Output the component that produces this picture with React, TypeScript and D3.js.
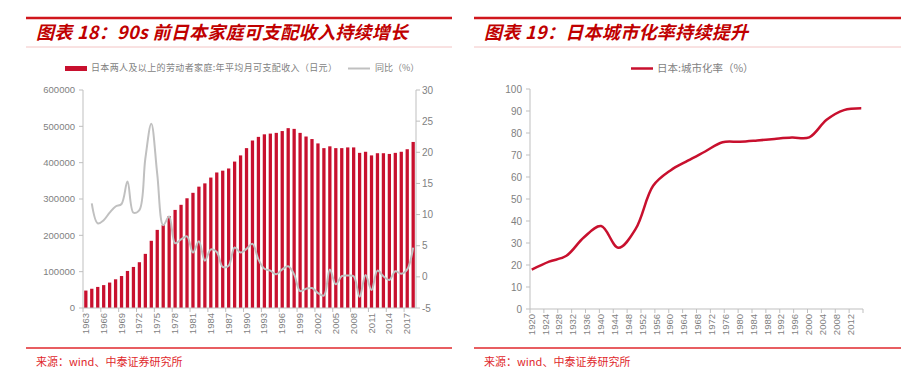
import React from 'react';
import * as d3 from 'd3';

// ---- left chart data (图表18) ----
const incomeYears = [
  1963, 1964, 1965, 1966, 1967, 1968, 1969, 1970, 1971, 1972, 1973, 1974, 1975, 1976,
  1977, 1978, 1979, 1980, 1981, 1982, 1983, 1984, 1985, 1986, 1987, 1988, 1989, 1990,
  1991, 1992, 1993, 1994, 1995, 1996, 1997, 1998, 1999, 2000, 2001, 2002, 2003, 2004,
  2005, 2006, 2007, 2008, 2009, 2010, 2011, 2012, 2013, 2014, 2015, 2016, 2017, 2018,
];
const incomeValues = [
  48000, 53000, 58000, 63000, 70000, 79000, 88000, 102000, 113000, 126000, 149000, 185000,
  215000, 228000, 253000, 270000, 284000, 302000, 317000, 334000, 343000, 359000, 373000,
  378000, 384000, 403000, 420000, 440000, 461000, 471000, 478000, 480000, 482000, 487000,
  495000, 493000, 482000, 472000, 465000, 453000, 440000, 445000, 440000, 440000, 442000,
  442000, 427000, 430000, 420000, 426000, 426000, 424000, 427000, 430000, 437000, 457000,
];
const yoyValues: (number | null)[] = [
  null, 11.8, 8.6, 9.1, 10.3, 11.3, 11.7, 15.3, 10.3, 10.7, 19.0, 24.6, 16.5, 8.3, 9.7,
  5.4, 6.0, 6.5, 3.9, 5.7, 2.6, 4.4, 4.0, 1.6, 1.8, 4.7, 3.9, 4.5, 5.3, 2.8, 1.3, 1.0,
  0.4, 1.2, 1.7, 0.4, -2.3, -1.9, -1.8, -2.6, -3.0, 1.2, -1.2, 0.1, 0.2, 0.1, -3.2, 0.3,
  -2.1, 1.0, 0.1, -0.5, 0.9, 0.5, 1.2, 4.7,
];
const incomeTicks = [0, 100000, 200000, 300000, 400000, 500000, 600000];
const yoyTicks = [-5, 0, 5, 10, 15, 20, 25, 30];

// ---- right chart data (图表19) ----
const urbanYears = [1920, 1925, 1930, 1935, 1940, 1945, 1950, 1955, 1960, 1965, 1970, 1975,
  1980, 1985, 1990, 1995, 2000, 2005, 2010, 2015];
const urbanValues = [17.9, 21.5, 24.2, 32.5, 37.7, 27.8, 36.5, 56.0, 63.0, 67.4, 71.6, 75.8,
  76.0, 76.6, 77.3, 77.9, 78.0, 86.0, 90.4, 91.2];
const urbanTicks = [0, 10, 20, 30, 40, 50, 60, 70, 80, 90, 100];
const urbanLabelYears = [1920, 1924, 1928, 1932, 1936, 1940, 1944, 1948, 1952, 1956, 1960,
  1964, 1968, 1972, 1976, 1980, 1984, 1988, 1992, 1996, 2000, 2004, 2008, 2012];

const RED = '#c8102e';
const GREY_LINE = '#c0c0c0';
const AXIS = '#bfbfbf';
const TXT = '#7f7f7f';
const NUM_FONT = '"Liberation Sans", Arial, sans-serif';
const CJK_FONT = '"Noto Sans CJK SC", "Noto Sans", sans-serif';

function Frame({ x0, x1, title, titleLen }: { x0: number; x1: number; title: string; titleLen: number }) {
  return (
    <g>
      <line x1={x0} x2={x1} y1={18} y2={18} stroke="#d0161c" strokeWidth={2.5} />
      <text x={x0 + 10} y={39} fill="#c00000" fontFamily={CJK_FONT} fontSize={18}
        fontWeight="bold" fontStyle="italic" textLength={titleLen} lengthAdjust="spacing">{title}</text>
      <line x1={x0} x2={x1} y1={47} y2={47} stroke="#f3c4c4" strokeWidth={1} />
      <line x1={x0} x2={x1} y1={348} y2={348} stroke="#e0282c" strokeWidth={1.5} />
      <text x={x0 + 10} y={366} fill="#e0282c" fontFamily={CJK_FONT} fontSize={11}>来源：wind、中泰证券研究所</text>
    </g>
  );
}

function IncomeChart() {
  const left = 83, right = 416, top = 90, bottom = 308;
  const x = d3.scaleBand<number>().domain(incomeYears).range([left, right]).paddingInner(0.45).paddingOuter(0.2);
  const y = d3.scaleLinear().domain([0, 600000]).range([bottom, top]);
  const y2 = d3.scaleLinear().domain([-5, 30]).range([bottom, top]);
  const cx = (yr: number) => (x(yr) as number) + x.bandwidth() / 2;
  const line = d3.line<number | null>()
    .defined(d => d != null)
    .x((_, i) => cx(incomeYears[i]))
    .y(d => y2(d as number))
    .curve(d3.curveCatmullRom.alpha(0.5));
  const step = (right - left) / incomeYears.length;
  const labelYears = incomeYears.filter((_, i) => i % 3 === 0);
  return (
    <g>
      {incomeYears.map((yr, i) => (
        <rect key={yr} x={x(yr)} y={y(incomeValues[i])} width={x.bandwidth()}
          height={bottom - y(incomeValues[i])} fill={RED} />
      ))}
      <path d={line(yoyValues) || ''} fill="none" stroke={GREY_LINE} strokeWidth={2} />
      {/* axes */}
      <line x1={left} x2={left} y1={top} y2={bottom} stroke={AXIS} />
      <line x1={right} x2={right} y1={top} y2={bottom} stroke={AXIS} />
      <line x1={left} x2={right} y1={bottom} y2={bottom} stroke={AXIS} />
      {incomeTicks.map(t => (
        <g key={t}>
          <line x1={left - 4} x2={left} y1={y(t)} y2={y(t)} stroke={AXIS} />
          <text x={left - 8} y={y(t)} dy="0.35em" textAnchor="end" fontSize={9.5} fill={TXT} fontFamily={NUM_FONT}>{t}</text>
        </g>
      ))}
      {yoyTicks.map(t => (
        <g key={t}>
          <line x1={right} x2={right + 4} y1={y2(t)} y2={y2(t)} stroke={AXIS} />
          <text x={right + 6} y={y2(t)} dy="0.35em" fontSize={10} fill={TXT} fontFamily={NUM_FONT}>{t}</text>
        </g>
      ))}
      {labelYears.map((yr, k) => (
        <g key={yr}>
          <line x1={left + k * 3 * step} x2={left + k * 3 * step} y1={bottom} y2={bottom + 4} stroke={AXIS} />
          <text transform={`translate(${cx(yr) + 3},${bottom + 5}) rotate(-90)`} textAnchor="end"
            fontSize={9.5} fill={TXT} fontFamily={NUM_FONT}>{yr}</text>
        </g>
      ))}
      {/* legend */}
      <rect x={65} y={66} width={22} height={5} fill={RED} />
      <text x={91} y={68} dy="0.35em" fontSize={9} fill={TXT} fontFamily={CJK_FONT}
        textLength={246} lengthAdjust="spacing">日本两人及以上的劳动者家庭:年平均月可支配收入（日元）</text>
      <line x1={348} x2={370} y1={68.5} y2={68.5} stroke={GREY_LINE} strokeWidth={2} />
      <text x={375} y={68} dy="0.35em" fontSize={9} fill={TXT} fontFamily={CJK_FONT}>同比（%）</text>
    </g>
  );
}

function UrbanChart() {
  const left = 530, right = 863, top = 89, bottom = 309;
  const x = d3.scaleLinear().domain([1919.5, 2015.5]).range([left, right]);
  const y = d3.scaleLinear().domain([0, 100]).range([bottom, top]);
  const line = d3.line<number>()
    .x((_, i) => x(urbanYears[i]))
    .y(d => y(d))
    .curve(d3.curveCatmullRom.alpha(0.5));
  return (
    <g>
      <line x1={left} x2={left} y1={top} y2={bottom} stroke={AXIS} />
      <line x1={left} x2={right} y1={bottom} y2={bottom} stroke={AXIS} />
      {urbanTicks.map(t => (
        <g key={t}>
          <line x1={left - 4} x2={left} y1={y(t)} y2={y(t)} stroke={AXIS} />
          <text x={left - 8} y={y(t)} dy="0.35em" textAnchor="end" fontSize={10} fill={TXT} fontFamily={NUM_FONT}>{t}</text>
        </g>
      ))}
      {urbanLabelYears.map(yr => (
        <g key={yr}>
          <line x1={x(yr - 0.5)} x2={x(yr - 0.5)} y1={bottom} y2={bottom + 4} stroke={AXIS} />
          <text transform={`translate(${x(yr) + 3},${bottom + 5}) rotate(-90)`} textAnchor="end"
            fontSize={9.5} fill={TXT} fontFamily={NUM_FONT}>{yr}</text>
        </g>
      ))}
      <line x1={right} x2={right} y1={bottom} y2={bottom + 4} stroke={AXIS} />
      <path d={line(urbanValues) || ''} fill="none" stroke={RED} strokeWidth={2.5} />
      {/* legend */}
      <line x1={631} x2={653} y1={68.5} y2={68.5} stroke={RED} strokeWidth={2.5} />
      <text x={657} y={68} dy="0.35em" fontSize={10.5} fill={TXT} fontFamily={CJK_FONT}>日本:城市化率（%）</text>
    </g>
  );
}

export default function App() {
  return (
    <svg width={923} height={388} style={{ position: 'absolute', left: 0, top: 0, background: '#fff' }}>
      <rect width={923} height={388} fill="#fff" />
      <Frame x0={26} x1={452} title="图表 18：90s 前日本家庭可支配收入持续增长" titleLen={372} />
      <Frame x0={474} x1={901} title="图表 19：日本城市化率持续提升" titleLen={264} />
      <IncomeChart />
      <UrbanChart />
    </svg>
  );
}
